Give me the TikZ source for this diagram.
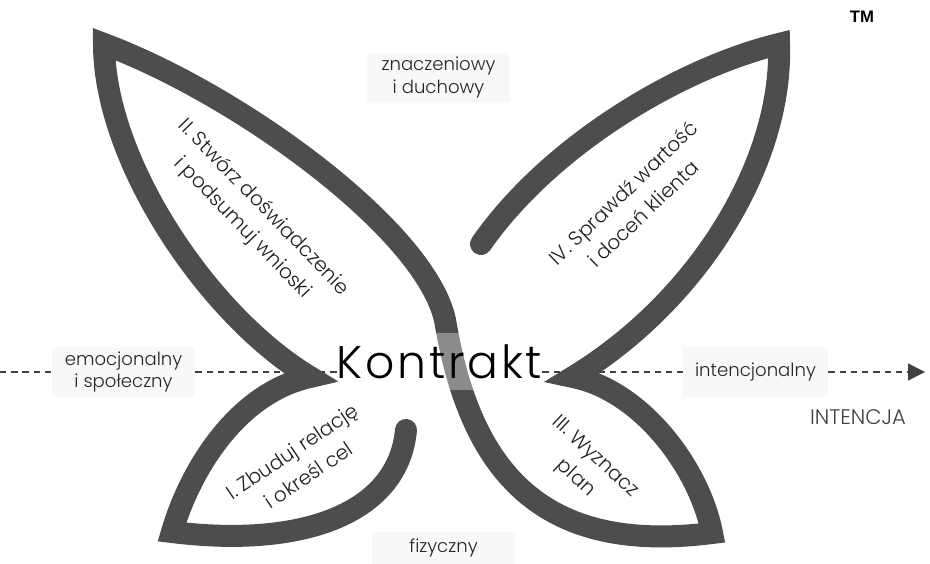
\documentclass[tikz,border=0pt]{standalone}
\usepackage{fontspec}
\setmainfont{Poppins Light}
\newfontfamily\tmfont{Liberation Sans}
\usetikzlibrary{arrows.meta,backgrounds}

\definecolor{wing}{HTML}{4D4D4D}
\definecolor{labelbg}{HTML}{F8F8F8}

\tikzset{
  axis/.style={dash pattern=on 3.6pt off 2.8pt, line width=0.7pt, black!75},
  dimbox/.style={fill=labelbg, minimum width=2.86cm, minimum height=1cm, inner sep=0pt, align=center, font=\fontsize{10.3}{13}\selectfont, text=black!85},
  winglabel/.style={align=center, font=\fontsize{11.4}{16.5}\selectfont, text=black!88}
}

\begin{document}
\begin{tikzpicture}[x=0.02cm, y=-0.02cm]
    \useasboundingbox (0,0) rectangle (930,564);

    % Butterfly outline - one stroke, round at both loose ends
    \draw[wing, line width=0.44cm, line cap=round, line join=miter]
      (406,430) .. controls (398,515) and (300,548) .. (172,532)   % lower left wing
      .. controls (190,470) and (237,393) .. (310,377)
      .. controls (207,315) and (104,160) .. (104,44)              % upper left wing
      .. controls (240,95) and (425,230) .. (445,320)
      .. controls (470,470) and (540,555) .. (712,533)             % lower right wing
      .. controls (700,470) and (643,391) .. (573,377)
      .. controls (701,299) and (783,160) .. (779,44)              % upper right wing
      .. controls (680,68) and (550,145) .. (481,244);

    % Middle
    \node[fill=white, fill opacity=0.35, text opacity=1, minimum width=3.9cm, minimum height=1.14cm, inner sep=0pt, font=\fontsize{26}{30}\selectfont\addfontfeature{LetterSpace=6}] (kon) at (439.5,361.5) {Kontrakt};

    % Steps on the wings
    \node[winglabel, rotate=34] (one) at (300,463) {I. Zbuduj relację\\i określ cel};
    \node[winglabel, rotate=-46] (two) at (253,218) {II. Stwórz doświadczenie\\i podsumuj wnioski};
    \node[winglabel, rotate=-43] (three) at (585,468) {III. Wyznacz\\plan};
    \node[winglabel, rotate=44] (four) at (633,203) {IV. Sprawdź wartość\\i doceń klienta};

    % Dimensions
    \node[dimbox] (emo) at (123.5,372) {emocjonalny\\i społeczny};
    \node[dimbox] (zna) at (438.5,77.5) {znaczeniowy\\i duchowy};
    \node[dimbox, minimum height=0.64cm] (fiz) at (443.5,548) {fizyczny};
    \node[dimbox, minimum width=2.9cm] (int) at (755.5,372) {intencjonalny};
    \node[font=\fontsize{12}{14}\selectfont, text=black!75] (intencja) at (858,417) {INTENCJA};
    \node[font=\tmfont\bfseries\fontsize{9.5}{11}\selectfont] (tm) at (862,17) {TM};

    % Dashed axis behind everything
    \coordinate (axisstart) at (0,372);
    \coordinate (axisend) at (925,372);
    \begin{scope}[on background layer]
      \draw[axis] (axisstart) -- (emo.west);
      \draw[axis] (emo.east) -- (emo.east -| kon.west);
      \draw[axis] (kon.east |- int.west) -- (int.west);
      \draw[axis, -{Triangle[length=9.6pt, width=9.6pt]}] (int.east) -- (axisend);
    \end{scope}
\end{tikzpicture}
\end{document}
